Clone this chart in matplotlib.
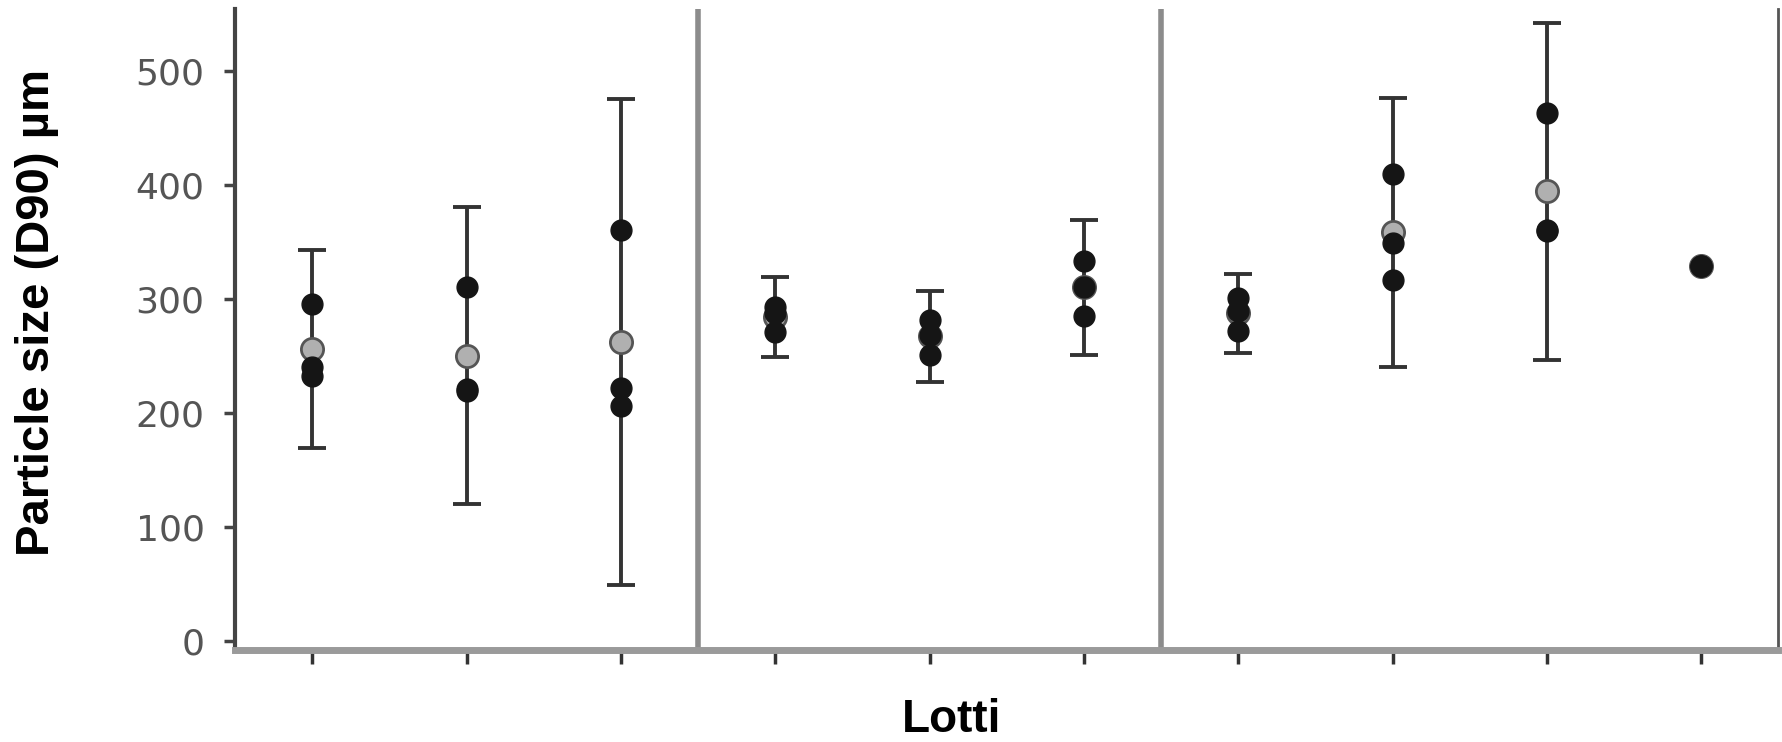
import numpy as np
import matplotlib
matplotlib.use("Agg")
import matplotlib.pyplot as plt

plt.rcParams['font.family'] = ['Liberation Sans', 'DejaVu Sans']

# lots 1..10, three replicate measurements each (D90, um)
lots = np.arange(1, 11)
run1 = [295, 310, 360, 293, 281, 333, 301, 409, 463, 329]
run2 = [240, 219, 222, 287, 268, 310, 289, 349, 360, 329]
run3 = [232, 221, 206, 271, 251, 285, 272, 316, 359, 329]

# mean and error bar half-width
means = [256, 250, 262, 284, 267, 310, 287, 358, 394, 329]
errs = [87, 130, 213, 35, 40, 59, 35, 118, 148, np.nan]

yticks = [0, 100, 200, 300, 400, 500]
group_breaks = [3.5, 6.5]

fig = plt.figure(figsize=(17.82, 7.42), dpi=100)
ax = fig.add_axes([0.132, 0.124, 0.866, 0.864])

ax.errorbar(lots, means, yerr=errs, fmt='none', ecolor='#333333',
            elinewidth=2.8, capsize=10, capthick=2.8, zorder=2)
ax.plot(lots, means, 'o', ms=16, mfc='#b0b0b0', mec='#555555', mew=2,
        zorder=3)
for run in (run1, run2, run3):
    ax.plot(lots, run, 'o', ms=15, color='#151515', zorder=4)

for xb in group_breaks:
    ax.axvline(xb, color='#8c8c8c', lw=4, zorder=1)

ax.set_xlim(0.5, 10.5)
ax.set_ylim(-8, 554)
ax.set_xticks(lots)
ax.set_xticklabels([])
ax.set_yticks(yticks)
ax.set_yticklabels([str(v) for v in yticks], color='#555555', fontsize=26,
                   family='DejaVu Sans')

ax.tick_params(axis='x', length=10, width=2.5, color='#333333', direction='out')
ax.tick_params(axis='y', length=8, width=2.5, color='#444444', direction='out', pad=14)

ax.spines['top'].set_visible(False)
ax.spines['left'].set_color('#444444')
ax.spines['left'].set_linewidth(3)
ax.spines['bottom'].set_color('#9a9a9a')
ax.spines['bottom'].set_linewidth(5)
ax.spines['right'].set_color('#555555')
ax.spines['right'].set_linewidth(2)

fig.text(37 / 1782, 1 - 313 / 742, 'Particle size (D90) µm', fontsize=34,
         fontweight='bold', rotation=90, ha='center', va='center')
fig.text(952 / 1782, 1 - 732 / 742, 'Lotti', fontsize=33, fontweight='bold',
         ha='center', va='baseline')

fig.savefig('out.png', dpi=100)
